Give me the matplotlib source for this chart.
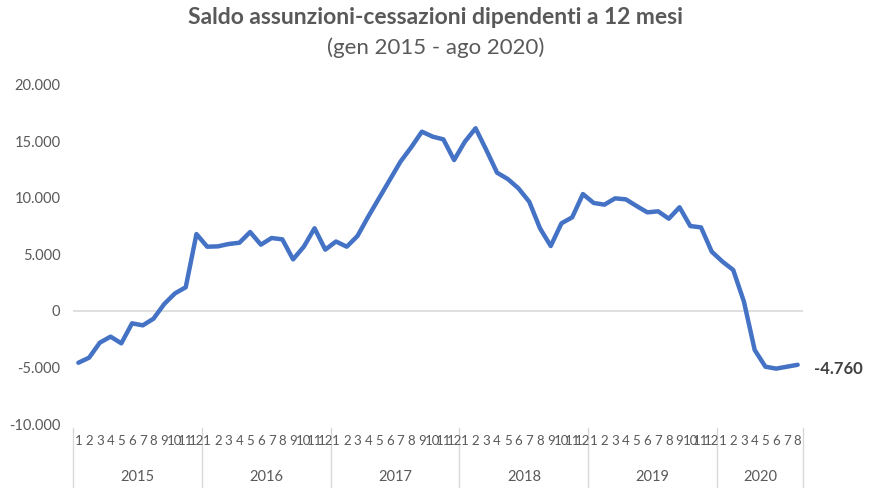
import numpy as np
import matplotlib.pyplot as plt
import matplotlib.transforms as mtransforms

# Dati: saldo mensile a 12 mesi, gen 2015 - ago 2020
anni = ["2015", "2016", "2017", "2018", "2019", "2020"]
mesi_per_anno = [12, 12, 12, 12, 12, 8]
saldo = [
    # 2015
    -4580, -4130, -2800, -2270, -2860, -1090, -1270, -680, 620, 1560, 2100, 6810,
    # 2016
    5690, 5720, 5930, 6040, 6990, 5870, 6460, 6340, 4570, 5690, 7320, 5430,
    # 2017
    6150, 5690, 6640, 8350, 9970, 11590, 13210, 14480, 15870, 15430, 15190, 13360,
    # 2018
    14980, 16170, 14250, 12240, 11680, 10850, 9670, 7320, 5750, 7760, 8290, 10350,
    # 2019
    9560, 9410, 9970, 9880, 9290, 8730, 8820, 8170, 9180, 7520, 7400, 5250,
    # 2020
    4370, 3630, 820, -3450, -4930, -5100, -4930, -4760,
]
etichetta_finale = "-4.760"
yticks = [-10000, -5000, 0, 5000, 10000, 15000, 20000]

plt.rcParams['font.family'] = ['Lato', 'DejaVu Sans']
grigio = '#595959'

fig = plt.figure(figsize=(8.71, 4.94), dpi=100)
ax = fig.add_axes([73 / 871, 1 - 424 / 494, 730 / 871, 339 / 494])

x = np.arange(len(saldo))
ax.plot(x, saldo, color='#4472C4', lw=3.2, solid_capstyle='round', solid_joinstyle='round', zorder=3)
ax.axhline(0, color='#d9d9d9', lw=1.2, zorder=1)

ax.set_xlim(-0.5, len(saldo) - 0.5)
ax.set_ylim(-10000, 20000)
ax.set_yticks(yticks)
ax.set_yticklabels([f"{v:,}".replace(",", ".") for v in yticks], color=grigio, fontsize=10.5)
ax.tick_params(axis='y', length=0, pad=9)
ax.set_xticks([])
for s in ax.spines.values():
    s.set_visible(False)

# etichette mesi e anni sotto l'asse
trans = mtransforms.blended_transform_factory(ax.transData, ax.transAxes)
pos = 0
bordi = [-0.5]
for anno, n in zip(anni, mesi_per_anno):
    for m in range(n):
        ax.text(pos + m, -0.05, str(m + 1), transform=trans, ha='center', va='center',
                fontsize=9.5, color=grigio)
    ax.text(pos + (n - 1) / 2, -0.156, anno, transform=trans, ha='center', va='center',
            fontsize=10.5, color=grigio)
    pos += n
    bordi.append(pos - 0.5)
for b in bordi:
    ax.plot([b, b], [-0.012, -0.186], transform=trans, color='#d9d9d9', lw=1, clip_on=False)

ax.annotate(etichetta_finale, xy=(x[-1], saldo[-1]), xytext=(12, -3), textcoords='offset points',
            ha='left', va='center', fontsize=12, fontweight='bold', color='#404040')

fig.text(0.5, 1 - 18 / 494, "Saldo assunzioni-cessazioni dipendenti a 12 mesi", ha='center', va='center',
         fontsize=16.5, fontweight='bold', color=grigio)
fig.text(0.5, 1 - 48 / 494, "(gen 2015 - ago 2020)", ha='center', va='center',
         fontsize=16, color=grigio)

fig.savefig("out.png", dpi=100)
